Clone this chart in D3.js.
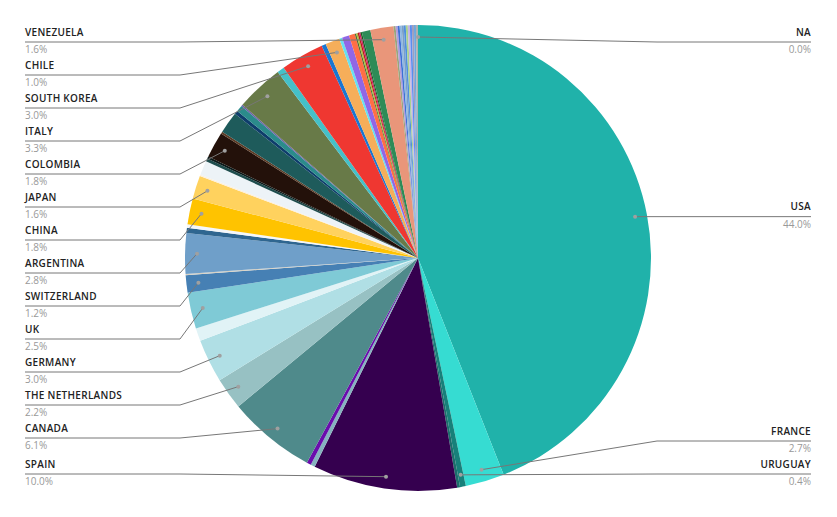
<!DOCTYPE html>
<html>
<head>
<meta charset="utf-8">
<script src="https://cdn.jsdelivr.net/npm/d3@7"></script>
<style>
html,body{margin:0;padding:0;background:#fff;}
svg{display:block;}
</style>
</head>
<body>
<svg id="chart" width="837" height="517"></svg>
<script>
// Slices clockwise from 12 o'clock ("" = unlabeled small slice)
const sliceNames = ["USA","FRANCE","URUGUAY","","SPAIN","","","CANADA","THE NETHERLANDS","GERMANY","","UK","SWITZERLAND","","ARGENTINA","","","CHINA","JAPAN","","","","","COLOMBIA","","","","","","ITALY","","SOUTH KOREA","","CHILE","","","","","","","","","","VENEZUELA","","","","","","","","","","","","","NA"];
const sliceValues = [44.0,2.7,0.4,0.2,10.0,0.3,0.3,6.1,2.2,3.0,0.9,2.5,1.2,0.1,2.8,0.35,0.25,1.8,1.6,0.1,1.0,0.2,0.15,1.8,0.15,1.5,0.25,0.45,0.1,3.3,0.5,3.0,0.3,1.0,0.2,0.5,0.4,0.1,0.1,0.1,0.1,0.1,0.6,1.6,0.14,0.14,0.14,0.14,0.14,0.14,0.14,0.14,0.14,0.14,0.14,0.14,0.0];
const sliceColors = ["#20b2aa","#36dcd2","#17807a","#1c6e6b","#35004f","#86b3c0","#6a0dad","#4f8a8b","#97c1c3","#b0dfe5","#e1f3f6","#7fcad6","#4680b4","#d8d2c4","#6f9fc9","#2f6690","#f4f7fa","#ffc300","#ffd25e","#fdf0dc","#edf3f7","#1e4d4d","#0a1a1a","#23110a","#5c3b25","#1e5b5b","#0e3d6b","#2b8b8b","#6b5ea8","#687a48","#45c0c8","#ef3731","#1976d2","#f6ae5a","#66e0f0","#9166e6","#ff6e45","#556b2f","#a4c639","#b71c1c","#d81b60","#1b5e20","#2e8b57","#e9967a","#9aa57c","#b39ddb","#3d6fd6","#8fb8e0","#7aa0c8","#4e8fe0","#a9d18e","#c5b3e6","#5b8def","#9e9ebe","#6fa8dc","#b0b0b0","#999999"];

const cx = 418, cy = 258, R = 233, dotR = 221;
const leftElbowX = 180, rightElbowX = 657, leftTextX = 25, rightTextX = 811;
const minY = 42, maxY = 474, gap = 33;

const data = sliceNames.map((n,i)=>({name:n, value:sliceValues[i], color:sliceColors[i]}));
const svg = d3.select("#chart");
const g = svg.append("g").attr("transform",`translate(${cx},${cy})`);

const pie = d3.pie().sort(null).value(d=>d.value);
const arcs = pie(data);
const arc = d3.arc().innerRadius(0).outerRadius(R);

g.selectAll("path.slice").data(arcs).enter().append("path")
  .attr("class","slice")
  .attr("d",arc)
  .attr("fill",d=>d.data.color);

// label anchors
const labelArc = d3.arc().innerRadius(dotR).outerRadius(dotR);
const labeled = arcs.filter(a=>a.data.name!=="").map(a=>{
  const mid = (a.startAngle+a.endAngle)/2;
  const p = labelArc.centroid(a);
  const norm = ((mid % (2*Math.PI)) + 2*Math.PI) % (2*Math.PI);
  const right = norm < Math.PI || a.data.value===0;
  return {a, x:p[0]+cx, y:p[1]+cy, right, name:a.data.name, value:a.data.value};
});

function layout(list){
  list.sort((p,q)=>p.y-q.y);
  list.forEach((d,i)=>{
    d.ly = Math.min(Math.max(d.y,minY),maxY);
    if(i>0) d.ly = Math.max(d.ly, list[i-1].ly+gap);
  });
  for(let i=list.length-1;i>=0;i--){
    if(i===list.length-1) list[i].ly = Math.min(list[i].ly,maxY);
    else list[i].ly = Math.min(list[i].ly, list[i+1].ly-gap);
  }
}
const rightL = labeled.filter(d=>d.right);
const leftL = labeled.filter(d=>!d.right);
layout(rightL); layout(leftL);

const lg = svg.append("g");
[...leftL, ...rightL].forEach(d=>{
  const ex = d.right ? rightElbowX : leftElbowX;
  const tx = d.right ? rightTextX : leftTextX;
  lg.append("polyline")
    .attr("points",`${d.x},${d.y} ${ex},${d.ly} ${tx},${d.ly}`)
    .attr("fill","none").attr("stroke","#777").attr("stroke-width",1);
  lg.append("circle").attr("cx",d.x).attr("cy",d.y).attr("r",2).attr("fill","#a0a0a0");
  lg.append("text").attr("x",tx).attr("y",d.ly-6.5)
    .attr("text-anchor",d.right?"end":"start")
    .attr("font-family","'Open Sans', 'Noto Sans', sans-serif")
    .attr("font-size","10px").attr("font-weight",600)
    .attr("letter-spacing","0.3px")
    .attr("fill","#222").text(d.name);
  lg.append("text").attr("x",tx).attr("y",d.ly+11)
    .attr("text-anchor",d.right?"end":"start")
    .attr("font-family","'Open Sans', 'Noto Sans', sans-serif")
    .attr("font-size","10px")
    .attr("fill","#999").text(d.value.toFixed(1)+"%");
});
</script>
</body>
</html>
